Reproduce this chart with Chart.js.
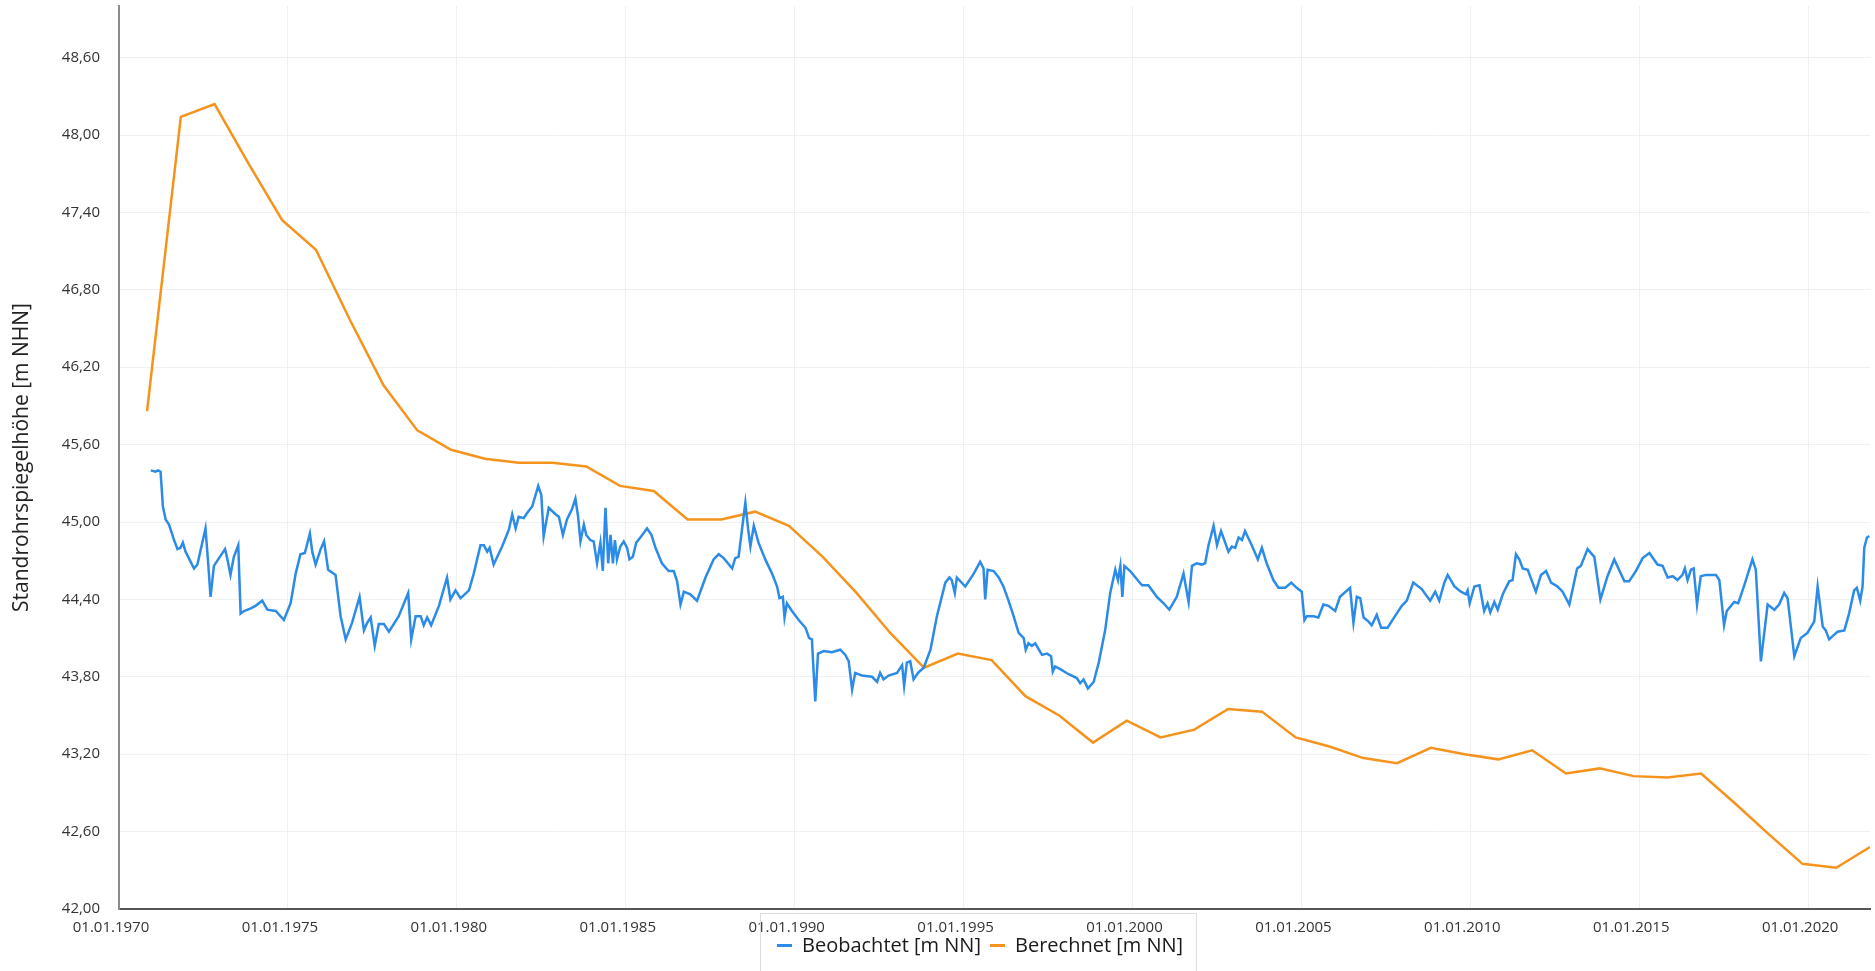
<!DOCTYPE html>
<html>
<head>
<meta charset="utf-8">
<script src="https://cdn.jsdelivr.net/npm/chart.js@4/dist/chart.umd.min.js"></script>
<style>
    body { margin: 0; background: #fff; font-family: "Open Sans", sans-serif; }
    #wrap { position: relative; width: 1875px; height: 971px; }
    #legend { position: absolute; left: 760px; top: 913px; width: 437px; height: 58px;
              border: 1px solid #dedede; border-bottom: none; box-sizing: border-box; }
    #legend .dash { position: absolute; top: 30px; width: 15px; height: 3px; }
    #legend .txt { position: absolute; top: 19px; font-size: 20px; line-height: 24px; color: #1a1a1a; white-space: nowrap; }
</style>
</head>
<body>
<div id="wrap">
    <canvas id="chart"></canvas>
    <div id="legend">
        <div class="dash" style="left:16px;background:#2b8be6"></div>
        <div class="txt" style="left:41px">Beobachtet [m NN]</div>
        <div class="dash" style="left:229px;background:#f5931c"></div>
        <div class="txt" style="left:254px">Berechnet [m NN]</div>
    </div>
</div>
<script>
// Beobachtet: observed level, x in decimal years
var obsYear = [
    1970.94, 1971.08, 1971.16, 1971.23, 1971.30, 1971.38, 1971.48, 1971.63, 1971.73, 1971.82,
    1971.89, 1971.97, 1972.22, 1972.32, 1972.56, 1972.64, 1972.71, 1972.81, 1972.96, 1973.14,
    1973.21, 1973.30, 1973.40, 1973.53, 1973.60, 1973.70, 1973.90, 1974.04, 1974.24, 1974.39,
    1974.64, 1974.88, 1975.08, 1975.23, 1975.37, 1975.50, 1975.65, 1975.72, 1975.82, 1975.97,
    1976.07, 1976.19, 1976.41, 1976.56, 1976.71, 1976.90, 1977.12, 1977.25, 1977.35, 1977.45,
    1977.57, 1977.69, 1977.84, 1977.99, 1978.28, 1978.56, 1978.65, 1978.78, 1978.93, 1979.02,
    1979.12, 1979.24, 1979.47, 1979.71, 1979.81, 1979.96, 1980.11, 1980.36, 1980.50, 1980.70,
    1980.80, 1980.90, 1980.97, 1981.09, 1981.34, 1981.54, 1981.64, 1981.74, 1981.83, 1981.98,
    1982.08, 1982.23, 1982.41, 1982.50, 1982.57, 1982.72, 1982.92, 1983.02, 1983.14, 1983.26,
    1983.41, 1983.51, 1983.59, 1983.66, 1983.76, 1983.83, 1983.95, 1984.05, 1984.15, 1984.25,
    1984.32, 1984.40, 1984.48, 1984.55, 1984.62, 1984.68, 1984.74, 1984.84, 1984.94, 1985.04,
    1985.11, 1985.21, 1985.31, 1985.46, 1985.63, 1985.76, 1985.88, 1986.07, 1986.27, 1986.42,
    1986.52, 1986.62, 1986.72, 1986.91, 1987.11, 1987.36, 1987.60, 1987.75, 1987.90, 1988.15,
    1988.24, 1988.34, 1988.44, 1988.54, 1988.62, 1988.69, 1988.79, 1988.93, 1989.13, 1989.33,
    1989.48, 1989.55, 1989.65, 1989.70, 1989.77, 1989.92, 1990.12, 1990.32, 1990.43, 1990.51,
    1990.56, 1990.61, 1990.69, 1990.86, 1991.10, 1991.35, 1991.50, 1991.60, 1991.70, 1991.79,
    1991.99, 1992.29, 1992.44, 1992.53, 1992.63, 1992.78, 1993.03, 1993.18, 1993.24, 1993.32,
    1993.42, 1993.52, 1993.65, 1993.82, 1994.02, 1994.21, 1994.46, 1994.58, 1994.65, 1994.74,
    1994.80, 1995.05, 1995.30, 1995.49, 1995.59, 1995.64, 1995.71, 1995.89, 1996.04, 1996.18,
    1996.33, 1996.48, 1996.63, 1996.78, 1996.84, 1996.92, 1997.02, 1997.12, 1997.32, 1997.47,
    1997.59, 1997.64, 1997.71, 1997.86, 1998.11, 1998.35, 1998.45, 1998.55, 1998.68, 1998.85,
    1999.00, 1999.19, 1999.34, 1999.49, 1999.57, 1999.64, 1999.70, 1999.76, 1999.93, 2000.28,
    2000.47, 2000.72, 2000.92, 2001.09, 2001.31, 2001.51, 2001.66, 2001.76, 2001.90, 2002.05,
    2002.15, 2002.25, 2002.40, 2002.50, 2002.62, 2002.84, 2002.94, 2003.04, 2003.14, 2003.24,
    2003.33, 2003.53, 2003.71, 2003.83, 2003.97, 2004.17, 2004.32, 2004.52, 2004.70, 2004.86,
    2005.01, 2005.09, 2005.16, 2005.36, 2005.50, 2005.65, 2005.80, 2006.00, 2006.14, 2006.44,
    2006.54, 2006.64, 2006.74, 2006.84, 2006.98, 2007.08, 2007.23, 2007.36, 2007.55, 2007.77,
    2007.97, 2008.12, 2008.31, 2008.56, 2008.81, 2008.96, 2009.08, 2009.23, 2009.33, 2009.53,
    2009.72, 2009.87, 2009.92, 2009.98, 2010.12, 2010.27, 2010.41, 2010.51, 2010.59, 2010.71,
    2010.81, 2010.96, 2011.15, 2011.25, 2011.35, 2011.45, 2011.55, 2011.70, 2011.94, 2012.09,
    2012.24, 2012.39, 2012.58, 2012.73, 2012.93, 2013.16, 2013.27, 2013.47, 2013.67, 2013.85,
    2014.06, 2014.26, 2014.56, 2014.70, 2014.90, 2015.10, 2015.30, 2015.54, 2015.69, 2015.84,
    2015.99, 2016.13, 2016.28, 2016.35, 2016.43, 2016.53, 2016.61, 2016.71, 2016.82, 2016.97,
    2017.27, 2017.37, 2017.51, 2017.59, 2017.81, 2017.93, 2018.11, 2018.35, 2018.45, 2018.60,
    2018.80, 2019.00, 2019.14, 2019.29, 2019.39, 2019.59, 2019.78, 2019.98, 2020.18, 2020.28,
    2020.43, 2020.52, 2020.62, 2020.87, 2021.07, 2021.21, 2021.36, 2021.44, 2021.54, 2021.61,
    2021.66, 2021.74, 2021.81
];
var obsLevel = [
    45.40, 45.39, 45.40, 45.39, 45.12, 45.02, 44.98, 44.86, 44.79, 44.80,
    44.84, 44.77, 44.64, 44.67, 44.95, 44.68, 44.42, 44.66, 44.72, 44.79,
    44.71, 44.59, 44.73, 44.82, 44.29, 44.31, 44.33, 44.35, 44.39, 44.32,
    44.31, 44.24, 44.37, 44.60, 44.75, 44.76, 44.91, 44.77, 44.67, 44.79,
    44.85, 44.63, 44.59, 44.27, 44.09, 44.22, 44.42, 44.16, 44.22, 44.26,
    44.04, 44.21, 44.21, 44.15, 44.27, 44.45, 44.09, 44.27, 44.27, 44.20,
    44.26, 44.20, 44.35, 44.57, 44.40, 44.47, 44.41, 44.47, 44.60, 44.82,
    44.82, 44.77, 44.80, 44.67, 44.81, 44.94, 45.06, 44.95, 45.04, 45.03,
    45.07, 45.12, 45.28, 45.21, 44.89, 45.11, 45.06, 45.04, 44.90, 45.02,
    45.10, 45.18, 45.04, 44.85, 44.98, 44.90, 44.86, 44.85, 44.68, 44.84,
    44.62, 45.11, 44.68, 44.90, 44.68, 44.86, 44.71, 44.81, 44.85, 44.80,
    44.71, 44.73, 44.84, 44.89, 44.95, 44.90, 44.80, 44.68, 44.62, 44.62,
    44.54, 44.36, 44.46, 44.44, 44.39, 44.57, 44.71, 44.75, 44.72, 44.64,
    44.72, 44.73, 44.94, 45.15, 44.95, 44.81, 44.97, 44.84, 44.71, 44.60,
    44.50, 44.41, 44.42, 44.26, 44.37, 44.31, 44.24, 44.18, 44.10, 44.09,
    43.84, 43.61, 43.98, 44.00, 43.99, 44.01, 43.97, 43.92, 43.70, 43.83,
    43.81, 43.80, 43.76, 43.83, 43.78, 43.81, 43.83, 43.89, 43.73, 43.91,
    43.92, 43.78, 43.83, 43.87, 44.01, 44.27, 44.53, 44.57, 44.55, 44.45,
    44.57, 44.50, 44.60, 44.69, 44.64, 44.40, 44.63, 44.62, 44.57, 44.50,
    44.39, 44.27, 44.14, 44.10, 44.01, 44.06, 44.04, 44.06, 43.97, 43.98,
    43.96, 43.84, 43.88, 43.86, 43.82, 43.79, 43.75, 43.78, 43.71, 43.76,
    43.91, 44.16, 44.45, 44.63, 44.55, 44.66, 44.42, 44.66, 44.62, 44.51,
    44.51, 44.42, 44.37, 44.32, 44.42, 44.60, 44.38, 44.66, 44.68, 44.67,
    44.68, 44.82, 44.97, 44.82, 44.93, 44.77, 44.81, 44.80, 44.88, 44.86,
    44.93, 44.82, 44.71, 44.80, 44.68, 44.55, 44.49, 44.49, 44.53, 44.49,
    44.46, 44.24, 44.27, 44.27, 44.26, 44.36, 44.35, 44.31, 44.42, 44.49,
    44.22, 44.42, 44.41, 44.26, 44.23, 44.20, 44.28, 44.18, 44.18, 44.27,
    44.35, 44.39, 44.53, 44.48, 44.39, 44.46, 44.39, 44.53, 44.59, 44.50,
    44.46, 44.44, 44.47, 44.37, 44.50, 44.51, 44.31, 44.37, 44.30, 44.38,
    44.32, 44.44, 44.54, 44.55, 44.75, 44.71, 44.64, 44.63, 44.46, 44.59,
    44.62, 44.53, 44.50, 44.46, 44.36, 44.64, 44.66, 44.79, 44.73, 44.40,
    44.58, 44.71, 44.54, 44.54, 44.62, 44.72, 44.76, 44.67, 44.66, 44.57,
    44.58, 44.55, 44.59, 44.64, 44.55, 44.63, 44.64, 44.36, 44.58, 44.59,
    44.59, 44.55, 44.20, 44.31, 44.38, 44.37, 44.51, 44.71, 44.63, 43.92,
    44.36, 44.32, 44.36, 44.45, 44.41, 43.96, 44.10, 44.14, 44.23, 44.50,
    44.19, 44.16, 44.09, 44.15, 44.16, 44.29, 44.47, 44.49, 44.39, 44.50,
    44.80, 44.88, 44.89
];

// Berechnet: one value per year (early November)
var calcYear = [
    1970.83, 1971.83, 1972.83, 1973.83, 1974.83, 1975.83, 1976.83, 1977.83, 1978.83, 1979.83,
    1980.83, 1981.83, 1982.83, 1983.83, 1984.83, 1985.83, 1986.83, 1987.83, 1988.83, 1989.83,
    1990.83, 1991.83, 1992.83, 1993.83, 1994.83, 1995.83, 1996.83, 1997.83, 1998.83, 1999.83,
    2000.83, 2001.83, 2002.83, 2003.83, 2004.83, 2005.83, 2006.83, 2007.83, 2008.83, 2009.83,
    2010.83, 2011.83, 2012.83, 2013.83, 2014.83, 2015.83, 2016.83, 2017.83, 2018.83, 2019.83,
    2020.83, 2021.83
];
var calcLevel = [
    45.86, 48.14, 48.24, 47.78, 47.34, 47.11, 46.57, 46.06, 45.71, 45.56,
    45.49, 45.46, 45.46, 45.43, 45.28, 45.24, 45.02, 45.02, 45.08, 44.97,
    44.73, 44.45, 44.14, 43.87, 43.98, 43.93, 43.65, 43.50, 43.29, 43.46,
    43.33, 43.39, 43.55, 43.53, 43.33, 43.26, 43.17, 43.13, 43.25, 43.20,
    43.16, 43.23, 43.05, 43.09, 43.03, 43.02, 43.05, 42.82, 42.58, 42.35,
    42.32, 42.48
];

// axis ticks
var xTickYears = [1970, 1975, 1980, 1985, 1990, 1995, 2000, 2005, 2010, 2015, 2020];
var yTickValues = [42.0, 42.6, 43.2, 43.8, 44.4, 45.0, 45.6, 46.2, 46.8, 47.4, 48.0, 48.6];

function toPoints (xs, ys) {
    return xs.map(function (x, i) { return { x: x, y: ys[i] }; });
}

var tickFont = { family: 'Open Sans', size: 15 };

var ctx = document.getElementById('chart').getContext('2d');
var chart = new Chart(ctx, {
    type: 'line',
    data: {
        datasets: [{
            label: 'Beobachtet [m NN]',
            data: toPoints(obsYear, obsLevel),
            borderColor: '#2b8be6',
            borderWidth: 2.5,
            pointRadius: 0,
            tension: 0
        }, {
            label: 'Berechnet [m NN]',
            data: toPoints(calcYear, calcLevel),
            borderColor: '#f5931c',
            borderWidth: 2.5,
            pointRadius: 0,
            tension: 0
        }]
    },
    options: {
        responsive: true,
        maintainAspectRatio: false,
        animation: false,
        layout: { padding: { top: 6, right: 5, bottom: 0, left: 0 } },
        plugins: {
            legend: { display: false },
            tooltip: { enabled: false }
        },
        scales: {
            x: {
                type: 'linear',
                min: 1970,
                max: 2021.83,
                afterBuildTicks: function (s) {
                    s.ticks = xTickYears.map(function (v) { return { value: v }; });
                },
                afterFit: function (s) {
                    s.height = 62;
                    s.paddingLeft = 0;
                    s.paddingRight = 0;
                },
                grid: { color: '#f0f0f0', drawTicks: false },
                border: { color: '#555', width: 2 },
                ticks: {
                    padding: 10,
                    labelOffset: -8,
                    maxRotation: 0,
                    autoSkip: false,
                    color: '#333',
                    font: tickFont,
                    callback: function (v) { return '01.01.' + v; }
                }
            },
            y: {
                min: 42,
                max: 49,
                afterBuildTicks: function (s) {
                    s.ticks = yTickValues.map(function (v) { return { value: v }; });
                },
                afterFit: function (s) {
                    s.width = 119;
                    s.paddingTop = 0;
                    s.paddingBottom = 0;
                },
                grid: { color: '#f0f0f0', drawTicks: false },
                border: { color: '#8a8a8a', width: 2 },
                ticks: {
                    padding: 19,
                    color: '#333',
                    font: tickFont,
                    callback: function (v) { return v.toFixed(2).replace('.', ','); }
                },
                title: {
                    display: true,
                    text: 'Standrohrspiegelhöhe [m NHN]',
                    color: '#222',
                    font: { family: 'Open Sans', size: 21 },
                    padding: { top: 9, bottom: 0 }
                }
            }
        }
    }
});
</script>
</body>
</html>
